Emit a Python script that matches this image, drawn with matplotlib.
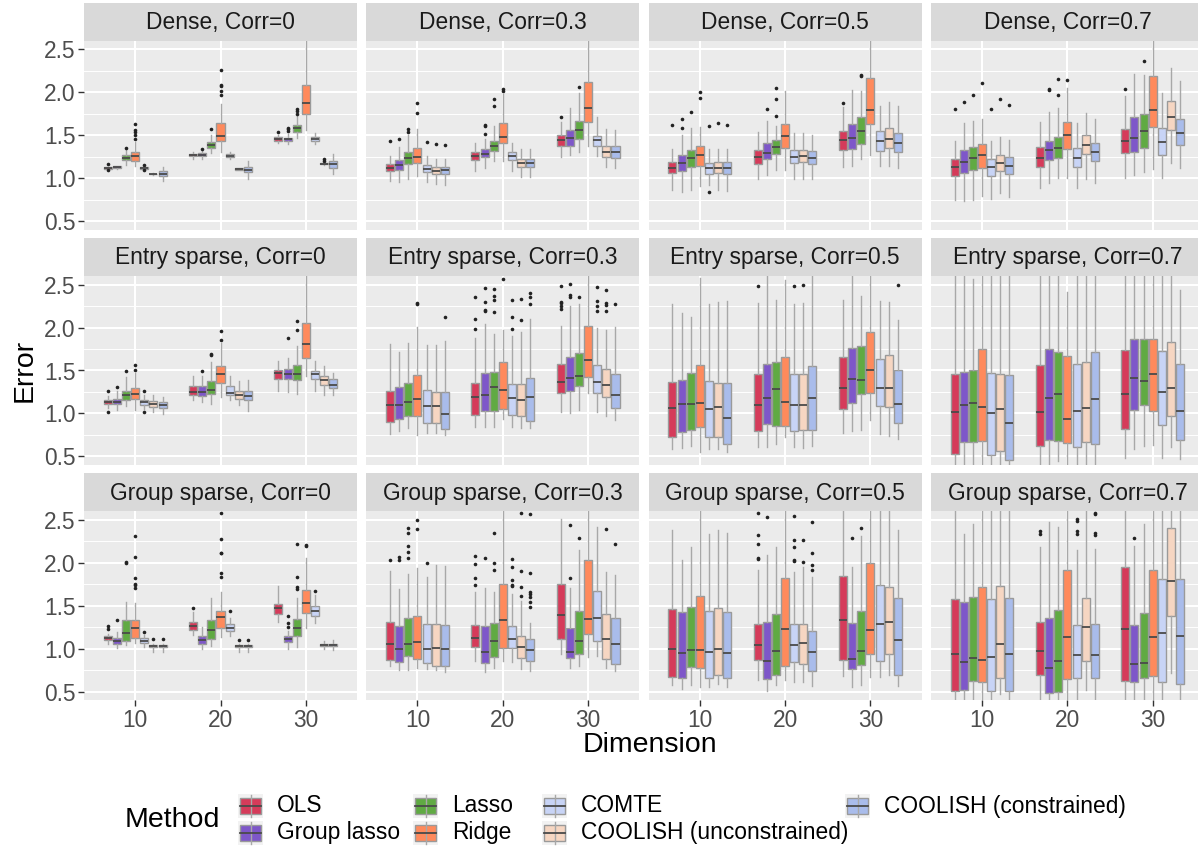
#!/usr/bin/env python3
"""Faceted grouped boxplots of estimation error by dimension and method."""

import matplotlib

matplotlib.use("Agg")
import matplotlib.pyplot as plt
from matplotlib.patches import Rectangle

plt.rcParams["font.family"] = ["Liberation Sans", "DejaVu Sans"]

W, H = 1198, 847
TOP, BOT = 2.75, 0.3  # whiskers that leave the panel

DIMENSIONS = ["10", "20", "30"]
METHODS = ["OLS", "Group lasso", "Lasso", "Ridge", "COMTE",
           "COOLISH (unconstrained)", "COOLISH (constrained)"]
COLORS = ["#D53B5A", "#7E57C9", "#60AA43", "#FF8A5C", "#C8D4F6", "#F6D6C2", "#A9BCEB"]
Y_TICKS = [0.5, 1.0, 1.5, 2.0, 2.5]

# each row: [whisker low, q1, median, q3, whisker high]; 7 methods per dimension
DENSE_0 = [
    [1.105, 1.11, 1.121, 1.13, 1.135], [1.11, 1.118, 1.13, 1.138, 1.145],
    [1.156, 1.207, 1.238, 1.269, 1.335], [1.137, 1.199, 1.257, 1.304, 1.42],
    [1.10, 1.108, 1.117, 1.126, 1.135], [1.035, 1.043, 1.048, 1.053, 1.06],
    [0.966, 1.02, 1.048, 1.079, 1.129],
    [1.22, 1.255, 1.265, 1.282, 1.31], [1.218, 1.255, 1.27, 1.29, 1.316],
    [1.29, 1.354, 1.385, 1.42, 1.5], [1.30, 1.428, 1.49, 1.638, 1.86],
    [1.22, 1.25, 1.262, 1.285, 1.31], [1.095, 1.1, 1.106, 1.114, 1.12],
    [0.993, 1.067, 1.098, 1.125, 1.195],
    [1.405, 1.432, 1.455, 1.475, 1.50], [1.40, 1.43, 1.451, 1.47, 1.517],
    [1.47, 1.537, 1.58, 1.618, 1.72], [1.556, 1.743, 1.871, 2.085, TOP],
    [1.40, 1.435, 1.45, 1.475, 1.53], [1.155, 1.163, 1.168, 1.172, 1.18],
    [1.052, 1.121, 1.16, 1.199, 1.284],
]
DENSE_0_OUT = {
    (0, 0): [1.16, 1.094], (0, 2): [1.35], (0, 3): [1.46, 1.506, 1.537, 1.56, 1.63],
    (0, 4): [1.152, 1.09], (1, 1): [1.335], (1, 2): [1.576],
    (1, 3): [1.97, 2.02, 2.077, 2.09, 2.255], (2, 0): [1.54],
    (2, 1): [1.545, 1.568, 1.583], (2, 2): [1.75, 1.78, 1.81], (2, 5): [1.2, 1.22],
}

DENSE_03 = [
    [0.966, 1.079, 1.121, 1.164, 1.261], [0.95, 1.094, 1.152, 1.21, 1.362],
    [0.993, 1.16, 1.23, 1.308, 1.5], [1.024, 1.172, 1.242, 1.347, 1.568],
    [0.955, 1.071, 1.11, 1.156, 1.257], [0.927, 1.048, 1.086, 1.125, 1.218],
    [0.924, 1.046, 1.09, 1.125, 1.218],
    [1.083, 1.21, 1.257, 1.304, 1.41], [1.121, 1.242, 1.28, 1.335, 1.46],
    [1.203, 1.312, 1.374, 1.432, 1.607], [1.195, 1.405, 1.479, 1.642, 1.98],
    [1.086, 1.207, 1.253, 1.308, 1.405], [1.017, 1.125, 1.176, 1.218, 1.343],
    [1.017, 1.125, 1.172, 1.218, 1.343],
    [1.25, 1.374, 1.444, 1.5, 1.657], [1.265, 1.374, 1.463, 1.556, 1.817],
    [1.304, 1.452, 1.556, 1.669, 1.987], [1.378, 1.653, 1.82, 2.115, TOP],
    [1.257, 1.37, 1.44, 1.494, 1.708], [1.133, 1.242, 1.304, 1.378, 1.568],
    [1.121, 1.238, 1.3, 1.37, 1.556],
]
DENSE_03_OUT = {
    (0, 0): [1.428], (0, 1): [1.46], (0, 2): [1.533, 1.572], (0, 3): [1.758, 1.875],
    (0, 4): [1.42], (0, 5): [1.393], (0, 6): [1.39],
    (1, 1): [1.51, 1.607, 1.618], (1, 2): [1.84, 1.92], (1, 3): [2.02, 2.04],
    (2, 0): [1.71], (2, 2): [2.065],
}

DENSE_05 = [
    [0.857, 1.055, 1.121, 1.187, 1.343], [0.838, 1.083, 1.176, 1.265, 1.5],
    [0.865, 1.125, 1.23, 1.331, 1.583], [0.908, 1.141, 1.265, 1.37, 1.59],
    [0.916, 1.044, 1.117, 1.18, 1.335], [0.865, 1.055, 1.117, 1.187, 1.335],
    [0.846, 1.044, 1.117, 1.187, 1.335],
    [0.985, 1.168, 1.242, 1.331, 1.537], [1.032, 1.218, 1.288, 1.405, 1.665],
    [1.098, 1.277, 1.358, 1.44, 1.607], [1.094, 1.354, 1.486, 1.634, 2.015],
    [0.985, 1.172, 1.242, 1.323, 1.525], [0.99, 1.184, 1.253, 1.331, 1.52],
    [0.985, 1.16, 1.23, 1.312, 1.506],
    [1.129, 1.323, 1.44, 1.545, 1.824], [1.145, 1.335, 1.463, 1.626, 2.03],
    [1.218, 1.397, 1.549, 1.708, 2.02], [1.265, 1.63, 1.797, 2.162, TOP],
    [1.137, 1.316, 1.428, 1.545, 1.836], [1.145, 1.347, 1.452, 1.58, 1.883],
    [1.117, 1.3, 1.409, 1.52, 1.836],
]
DENSE_05_OUT = {
    (0, 0): [1.615], (0, 1): [1.587, 1.688], (0, 2): [1.766], (0, 3): [1.93, 2.0],
    (0, 4): [1.603, 0.838], (0, 5): [1.638], (0, 6): [1.615],
    (1, 1): [1.809], (1, 2): [1.72, 1.917, 2.05], (2, 0): [1.875], (2, 2): [2.19, 2.2],
}

DENSE_07 = [
    [0.741, 1.028, 1.125, 1.218, 1.428], [0.729, 1.059, 1.184, 1.327, 1.645],
    [0.741, 1.09, 1.23, 1.366, 1.665], [0.795, 1.113, 1.265, 1.401, 1.692],
    [0.752, 1.02, 1.125, 1.218, 1.428], [0.822, 1.079, 1.18, 1.273, 1.475],
    [0.78, 1.05, 1.145, 1.242, 1.444],
    [0.884, 1.129, 1.234, 1.358, 1.653], [0.947, 1.215, 1.323, 1.432, 1.77],
    [1.0, 1.234, 1.35, 1.475, 1.82], [0.997, 1.339, 1.5, 1.65, 2.05],
    [0.888, 1.129, 1.234, 1.354, 1.642], [0.985, 1.28, 1.382, 1.5, 1.758],
    [0.943, 1.2, 1.304, 1.413, 1.688],
    [0.997, 1.288, 1.428, 1.568, 1.956], [1.04, 1.308, 1.471, 1.708, 2.213],
    [1.075, 1.347, 1.545, 1.743, 2.197], [1.106, 1.591, 1.79, 2.19, TOP],
    [0.997, 1.265, 1.42, 1.58, 1.99], [1.176, 1.556, 1.708, 1.894, 2.283],
    [1.114, 1.382, 1.525, 1.685, 2.127],
]
DENSE_07_OUT = {
    (0, 0): [1.809], (0, 1): [1.887], (0, 2): [1.968], (0, 3): [2.104],
    (0, 4): [1.809], (0, 5): [1.925], (0, 6): [1.848],
    (1, 1): [2.03, 2.04], (1, 2): [1.964, 2.158], (1, 3): [2.146],
    (2, 0): [2.034], (2, 2): [2.364],
}

ENTRY_0 = [
    [1.06, 1.106, 1.133, 1.16, 1.2], [1.044, 1.106, 1.137, 1.168, 1.257],
    [1.083, 1.16, 1.218, 1.265, 1.424], [1.044, 1.172, 1.222, 1.3, 1.47],
    [1.055, 1.102, 1.129, 1.156, 1.218], [1.013, 1.079, 1.114, 1.149, 1.218],
    [0.997, 1.067, 1.102, 1.13, 1.191],
    [1.16, 1.215, 1.249, 1.315, 1.44], [1.133, 1.207, 1.253, 1.323, 1.432],
    [1.114, 1.23, 1.277, 1.382, 1.595], [1.191, 1.35, 1.463, 1.549, 1.82],
    [1.16, 1.215, 1.238, 1.319, 1.432], [1.094, 1.172, 1.214, 1.257, 1.378],
    [1.032, 1.16, 1.207, 1.265, 1.385],
    [1.265, 1.405, 1.475, 1.51, 1.607], [1.253, 1.401, 1.455, 1.517, 1.642],
    [1.23, 1.389, 1.455, 1.568, 1.782], [1.432, 1.646, 1.805, 2.057, TOP],
    [1.265, 1.405, 1.463, 1.498, 1.607], [1.218, 1.335, 1.389, 1.436, 1.556],
    [1.218, 1.3, 1.335, 1.405, 1.47],
]
ENTRY_0_OUT = {
    (0, 0): [1.257, 1.013], (0, 1): [1.312], (0, 2): [1.494], (0, 3): [1.506, 1.568],
    (0, 4): [1.257, 1.013], (1, 1): [1.498], (1, 2): [1.68, 1.69],
    (1, 3): [1.852, 1.964], (2, 1): [1.882], (2, 2): [1.976, 2.08],
}

ENTRY_03 = [
    [0.764, 0.896, 1.098, 1.265, 1.805], [0.795, 0.939, 1.102, 1.304, 1.72],
    [0.834, 0.974, 1.137, 1.358, 1.824], [0.749, 0.974, 1.164, 1.452, 2.007],
    [0.772, 0.892, 1.09, 1.273, 1.8], [0.768, 0.884, 1.083, 1.25, 1.797],
    [0.749, 0.822, 0.997, 1.25, 1.843],
    [0.842, 0.986, 1.195, 1.358, 1.879], [0.842, 1.028, 1.218, 1.475, 2.038],
    [0.842, 1.032, 1.312, 1.486, 1.921], [0.931, 1.055, 1.277, 1.603, 1.968],
    [0.842, 0.986, 1.184, 1.343, 1.898], [0.826, 0.974, 1.16, 1.343, 1.945],
    [0.83, 0.916, 1.195, 1.417, 2.1],
    [1.02, 1.242, 1.37, 1.58, 2.015], [1.009, 1.261, 1.417, 1.661, 2.255],
    [1.036, 1.32, 1.436, 1.704, 2.278], [1.238, 1.428, 1.622, 2.022, TOP],
    [1.016, 1.242, 1.37, 1.564, 1.995], [0.974, 1.195, 1.331, 1.521, 1.968],
    [0.927, 1.063, 1.211, 1.463, 2.007],
]
ENTRY_03_OUT = {
    (0, 3): [2.27, 2.285], (0, 6): [2.12],
    (1, 0): [1.984, 2.104, 2.356], (1, 1): [2.193, 2.2, 2.294, 2.465],
    (1, 2): [2.178, 2.325, 2.364, 2.453], (1, 3): [2.566],
    (1, 4): [1.984, 2.12, 2.325], (1, 5): [2.088, 2.337], (1, 6): [2.278, 2.352, 2.407],
    (2, 0): [2.216, 2.247, 2.286, 2.3, 2.48], (2, 1): [2.356, 2.383, 2.508],
    (2, 2): [2.356], (2, 4): [2.189, 2.247, 2.313, 2.477],
    (2, 5): [2.193, 2.263, 2.286, 2.442], (2, 6): [2.271],
}

ENTRY_05 = [
    [0.586, 0.729, 1.067, 1.37, 2.279], [0.601, 0.78, 1.11, 1.389, 2.17],
    [0.625, 0.811, 1.106, 1.471, 2.127], [0.547, 0.838, 1.117, 1.568, 2.58],
    [0.59, 0.729, 1.051, 1.377, 2.275], [0.586, 0.729, 1.079, 1.358, 2.294],
    [0.547, 0.644, 0.947, 1.354, 2.306],
    [0.605, 0.8, 1.102, 1.455, 2.29], [0.609, 0.877, 1.184, 1.58, TOP],
    [0.644, 0.85, 1.288, 1.603, 2.317], [0.722, 0.85, 1.129, 1.653, 2.55],
    [0.605, 0.791, 1.094, 1.463, 2.279], [0.601, 0.803, 1.094, 1.463, 2.287],
    [0.62, 0.803, 1.184, 1.556, TOP],
    [0.776, 1.048, 1.3, 1.661, 2.321], [0.791, 1.121, 1.405, 1.762, TOP],
    [0.811, 1.222, 1.389, 1.789, 2.364], [0.92, 1.234, 1.502, 1.952, TOP],
    [0.764, 1.083, 1.296, 1.638, 2.31], [0.741, 1.071, 1.3, 1.685, 2.302],
    [0.702, 0.888, 1.106, 1.506, 2.084],
]
ENTRY_05_OUT = {(1, 0): [2.48], (1, 4): [2.48], (1, 5): [2.496], (2, 6): [2.492]}

ENTRY_07 = [
    [BOT, 0.523, 1.02, 1.463, TOP], [BOT, 0.663, 1.098, 1.486, TOP],
    [BOT, 0.663, 1.125, 1.51, 2.56], [BOT, 0.683, 1.079, 1.754, TOP],
    [BOT, 0.519, 1.005, 1.47, TOP], [BOT, 0.558, 1.048, 1.459, TOP],
    [BOT, 0.461, 0.892, 1.447, TOP],
    [BOT, 0.624, 1.02, 1.568, TOP], [BOT, 0.694, 1.184, 1.754, TOP],
    [0.442, 0.675, 1.23, 1.72, TOP], [BOT, 0.659, 0.939, 1.669, 2.41],
    [BOT, 0.613, 1.024, 1.576, TOP], [BOT, 0.671, 1.067, 1.603, TOP],
    [BOT, 0.64, 1.168, 1.716, TOP],
    [0.48, 0.822, 1.23, 1.739, TOP], [0.586, 1.044, 1.413, 1.871, TOP],
    [0.625, 1.098, 1.382, 1.871, TOP], [0.636, 1.032, 1.459, 1.863, TOP],
    [0.48, 0.869, 1.246, 1.727, TOP], [0.605, 0.966, 1.3, 1.836, TOP],
    [0.469, 0.694, 1.028, 1.576, 2.44],
]
ENTRY_07_OUT = {}

GROUP_0 = [
    [1.056, 1.1, 1.123, 1.146, 1.173], [1.01, 1.056, 1.088, 1.13, 1.193],
    [1.049, 1.095, 1.189, 1.34, 1.55], [1.068, 1.13, 1.243, 1.34, 1.535],
    [1.02, 1.07, 1.095, 1.12, 1.165], [0.963, 1.015, 1.03, 1.045, 1.057],
    [0.963, 1.015, 1.03, 1.045, 1.057],
    [1.16, 1.224, 1.267, 1.317, 1.426], [1.0, 1.06, 1.107, 1.146, 1.25],
    [1.033, 1.111, 1.224, 1.337, 1.586], [1.142, 1.243, 1.368, 1.442, 1.66],
    [1.146, 1.21, 1.243, 1.286, 1.36], [0.963, 1.015, 1.03, 1.045, 1.057],
    [0.963, 1.015, 1.03, 1.045, 1.057],
    [1.317, 1.41, 1.473, 1.523, 1.726], [0.994, 1.08, 1.115, 1.146, 1.204],
    [1.018, 1.146, 1.247, 1.348, 1.59], [1.243, 1.414, 1.535, 1.687, 2.055],
    [1.3, 1.383, 1.445, 1.492, 1.62], [1.0, 1.028, 1.045, 1.06, 1.095],
    [0.99, 1.028, 1.045, 1.06, 1.103],
]
GROUP_0_OUT = {
    (0, 0): [1.23, 1.26], (0, 1): [1.336], (0, 2): [2.0, 2.015],
    (0, 3): [1.706, 1.74, 1.75, 1.82, 2.07, 2.31], (0, 4): [1.2],
    (0, 5): [1.11], (0, 6): [1.11],
    (1, 0): [1.473], (1, 3): [1.84, 1.887, 2.11, 2.12, 2.28, 2.58], (1, 4): [1.445],
    (1, 5): [1.1], (1, 6): [1.1],
    (2, 1): [1.259, 1.298, 1.376], (2, 2): [1.7, 1.72, 1.83, 2.22],
    (2, 3): [2.2, 2.21], (2, 4): [1.67],
}

GROUP_03 = [
    [0.8, 0.87, 1.056, 1.317, 1.909], [0.753, 0.843, 0.994, 1.267, 1.7],
    [0.753, 0.92, 1.06, 1.36, 1.87], [0.776, 0.881, 1.084, 1.387, 1.944],
    [0.764, 0.831, 1.002, 1.286, 1.83], [0.75, 0.804, 1.01, 1.286, 1.98],
    [0.734, 0.8, 1.002, 1.278, 1.96],
    [0.858, 1.025, 1.126, 1.278, 1.66], [0.726, 0.838, 0.963, 1.267, 1.71],
    [0.772, 0.908, 1.088, 1.3, 1.66], [0.862, 1.006, 1.34, 1.757, TOP],
    [0.85, 1.013, 1.119, 1.267, 1.64], [0.768, 0.889, 1.025, 1.146, 1.56],
    [0.742, 0.858, 0.986, 1.115, 1.3],
    [0.936, 1.115, 1.395, 1.749, 2.51], [0.776, 0.897, 0.963, 1.243, 1.706],
    [0.8, 0.936, 1.095, 1.442, 2.146], [0.909, 1.173, 1.348, 2.037, TOP],
    [0.912, 1.09, 1.36, 1.667, 2.42], [0.776, 0.885, 1.119, 1.403, 1.893],
    [0.737, 0.823, 1.06, 1.36, 1.854],
]
GROUP_03_OUT = {
    (0, 0): [2.033], (0, 1): [2.03, 2.07], (0, 2): [2.06, 2.13, 2.2, 2.35, 2.41],
    (0, 3): [2.39, 2.5], (0, 4): [1.998],
    (1, 0): [1.737, 1.827, 1.986, 2.083], (1, 1): [2.06], (1, 2): [1.916, 1.998, 2.35],
    (1, 4): [1.73, 1.74, 1.8, 1.947, 2.05], (1, 5): [1.61, 1.72, 1.91, 2.58],
    (1, 6): [1.485, 1.54, 1.6, 1.64, 1.66, 1.877, 2.566],
    (2, 1): [1.827, 2.438], (2, 2): [2.286], (2, 5): [2.39], (2, 6): [2.224],
}

GROUP_05 = [
    [0.578, 0.675, 1.002, 1.465, 2.387], [0.531, 0.66, 0.947, 1.426, 2.037],
    [0.574, 0.788, 0.99, 1.484, 2.19], [0.55, 0.772, 0.99, 1.617, TOP],
    [0.554, 0.663, 0.959, 1.442, 2.333], [0.59, 0.699, 0.994, 1.477, 2.38],
    [0.554, 0.66, 0.955, 1.43, 2.35],
    [0.636, 0.87, 1.049, 1.29, 1.92], [0.512, 0.652, 0.858, 1.31, 2.088],
    [0.574, 0.698, 0.975, 1.407, 2.19], [0.64, 0.8, 1.231, 1.827, TOP],
    [0.617, 0.84, 1.045, 1.286, 1.893], [0.609, 0.823, 1.064, 1.286, 1.95],
    [0.562, 0.737, 0.963, 1.208, 1.83],
    [0.679, 0.87, 1.337, 1.85, TOP], [0.558, 0.761, 0.885, 1.302, 1.95],
    [0.582, 0.815, 0.979, 1.438, 2.31], [0.667, 0.94, 1.22, 2.0, TOP],
    [0.675, 0.854, 1.29, 1.745, TOP], [0.695, 0.94, 1.317, 1.722, TOP],
    [0.57, 0.69, 1.107, 1.593, 2.387],
]
GROUP_05_OUT = {
    (1, 0): [2.04, 2.055, 2.22, 2.32, 2.585], (1, 1): [2.53],
    (1, 4): [2.02, 2.035, 2.185, 2.27, 2.55], (1, 5): [2.01, 2.265],
    (1, 6): [1.92, 1.97, 2.12, 2.47], (2, 1): [2.294], (2, 2): [2.4],
}

GROUP_07 = [
    [BOT, 0.508, 0.94, 1.582, TOP], [BOT, 0.523, 0.85, 1.55, 2.333],
    [BOT, 0.625, 0.897, 1.605, 2.45], [BOT, 0.61, 0.87, 1.714, TOP],
    [BOT, 0.508, 0.908, 1.574, TOP], [0.469, 0.664, 1.06, 1.733, TOP],
    [BOT, 0.508, 0.94, 1.59, TOP],
    [BOT, 0.698, 0.975, 1.317, 2.19], [BOT, 0.48, 0.78, 1.36, 2.47],
    [BOT, 0.5, 0.858, 1.446, 2.42], [BOT, 0.644, 1.138, 1.92, TOP],
    [BOT, 0.663, 0.928, 1.274, 2.146], [0.523, 0.858, 1.25, 1.593, TOP],
    [BOT, 0.663, 0.928, 1.286, 2.166],
    [BOT, 0.624, 1.228, 1.951, TOP], [BOT, 0.617, 0.823, 1.282, 2.2],
    [BOT, 0.656, 0.835, 1.418, 2.45], [BOT, 0.679, 1.138, 1.92, TOP],
    [BOT, 0.613, 1.185, 1.815, TOP], [0.718, 1.383, 1.792, 2.41, TOP],
    [BOT, 0.593, 1.15, 1.815, TOP],
]
GROUP_07_OUT = {
    (1, 0): [2.33, 2.37], (1, 4): [2.33, 2.37, 2.49, 2.51],
    (1, 6): [2.32, 2.35, 2.565, 2.585], (2, 1): [2.29],
}

ROW_NAMES = ["Dense", "Entry sparse", "Group sparse"]
CORRS = ["0", "0.3", "0.5", "0.7"]
PANELS = [
    [(DENSE_0, DENSE_0_OUT), (DENSE_03, DENSE_03_OUT),
     (DENSE_05, DENSE_05_OUT), (DENSE_07, DENSE_07_OUT)],
    [(ENTRY_0, ENTRY_0_OUT), (ENTRY_03, ENTRY_03_OUT),
     (ENTRY_05, ENTRY_05_OUT), (ENTRY_07, ENTRY_07_OUT)],
    [(GROUP_0, GROUP_0_OUT), (GROUP_03, GROUP_03_OUT),
     (GROUP_05, GROUP_05_OUT), (GROUP_07, GROUP_07_OUT)],
]

# layout in pixels
PANEL_X0, PANEL_DX, PANEL_W = 84.0, 282.3, 273.0
PANEL_Y0, PANEL_DY, PANEL_H = 40.7, 235.3, 189.0
STRIP_H = 38.0
SLOT, BOX_W = 0.107, 0.094
SMALL, BIG = 16.4, 20.5


def px_rect(x0, y0, w, h):
    return [x0 / W, 1 - (y0 + h) / H, w / W, h / H]


def draw_panel(ax, rows, outliers, show_x, show_y):
    ax.set_facecolor("#EBEBEB")
    ax.set_xlim(0.4, 3.6)
    ax.set_ylim(0.4, 2.6)
    for s in ax.spines.values():
        s.set_visible(False)
    for y in Y_TICKS:
        ax.axhline(y, color="white", lw=1.45, zorder=0)
    for y in [0.75, 1.25, 1.75, 2.25]:
        ax.axhline(y, color="white", lw=0.7, zorder=0)
    for x in [1, 2, 3]:
        ax.axvline(x, color="white", lw=1.45, zorder=0)

    stats, pos = [], []
    for d in range(len(DIMENSIONS)):
        for m in range(len(METHODS)):
            lo, q1, med, q3, hi = rows[d * len(METHODS) + m]
            stats.append(dict(whislo=lo, q1=q1, med=med, q3=q3, whishi=hi,
                              fliers=outliers.get((d, m), [])))
            pos.append(d + 1 + (m - 3) * SLOT)
    art = ax.bxp(
        stats, positions=pos, widths=BOX_W, patch_artist=True, showcaps=False,
        boxprops=dict(edgecolor="#9A9A9A", linewidth=1.0),
        medianprops=dict(color="#4A4A4A", linewidth=1.3, solid_capstyle="butt"),
        whiskerprops=dict(color="#A8A8A8", linewidth=1.0),
        flierprops=dict(marker="o", markersize=2.6, markerfacecolor="#222222",
                        markeredgecolor="none"),
        manage_ticks=False,
    )
    for i, box in enumerate(art["boxes"]):
        box.set_facecolor(COLORS[i % len(METHODS)])

    ax.set_xticks([1, 2, 3])
    ax.set_yticks(Y_TICKS)
    ax.tick_params(colors="#333333", length=4, width=1.0, labelsize=SMALL,
                   labelcolor="#4D4D4D", pad=2)
    if show_x:
        ax.set_xticklabels(DIMENSIONS)
    else:
        ax.tick_params(axis="x", length=0, labelbottom=False)
    if show_y:
        ax.set_yticklabels([f"{v:.1f}" for v in Y_TICKS])
    else:
        ax.tick_params(axis="y", length=0, labelleft=False)


fig = plt.figure(figsize=(W / 100, H / 100), dpi=100)

for r in range(3):
    for c in range(4):
        x0 = PANEL_X0 + c * PANEL_DX
        y0 = PANEL_Y0 + r * PANEL_DY
        ax = fig.add_axes(px_rect(x0, y0, PANEL_W, PANEL_H))
        rows, outs = PANELS[r][c]
        draw_panel(ax, rows, outs, show_x=(r == 2), show_y=(c == 0))

        sx = fig.add_axes(px_rect(x0, y0 - STRIP_H, PANEL_W, STRIP_H))
        sx.set_facecolor("#D9D9D9")
        sx.set_xticks([])
        sx.set_yticks([])
        for s in sx.spines.values():
            s.set_visible(False)
        sx.text(0.5, 0.48, f"{ROW_NAMES[r]}, Corr={CORRS[c]}", ha="center", va="center",
                fontsize=SMALL, color="#1A1A1A", transform=sx.transAxes)

# overlay in pixel coordinates for titles and legend
ov = fig.add_axes([0, 0, 1, 1])
ov.set_xlim(0, W)
ov.set_ylim(H, 0)
ov.axis("off")
ov.text(25, 370, "Error", rotation=90, ha="center", va="center", fontsize=BIG)
ov.text(650, 745, "Dimension", ha="center", va="center", fontsize=BIG)

ov.text(125, 820, "Method", ha="left", va="center", fontsize=BIG)
key_cols = [238, 413, 542, 845]
key_rows = [806, 833]
for i, (name, col) in enumerate(zip(METHODS, COLORS)):
    kx = key_cols[i // 2]
    ky = key_rows[i % 2]
    ov.add_patch(Rectangle((kx, ky - 12), 25, 24, facecolor="#F2F2F2", edgecolor="none"))
    ov.plot([kx + 12.5, kx + 12.5], [ky - 11, ky + 11], color="#A8A8A8", lw=1.0)
    ov.add_patch(Rectangle((kx + 2, ky - 8), 21, 16, facecolor=col, edgecolor="#9A9A9A", lw=1.0))
    ov.plot([kx + 2, kx + 23], [ky, ky], color="#4A4A4A", lw=1.3)
    ov.text(kx + 39, ky, name, ha="left", va="center", fontsize=SMALL)

fig.savefig("out.png", dpi=100)
